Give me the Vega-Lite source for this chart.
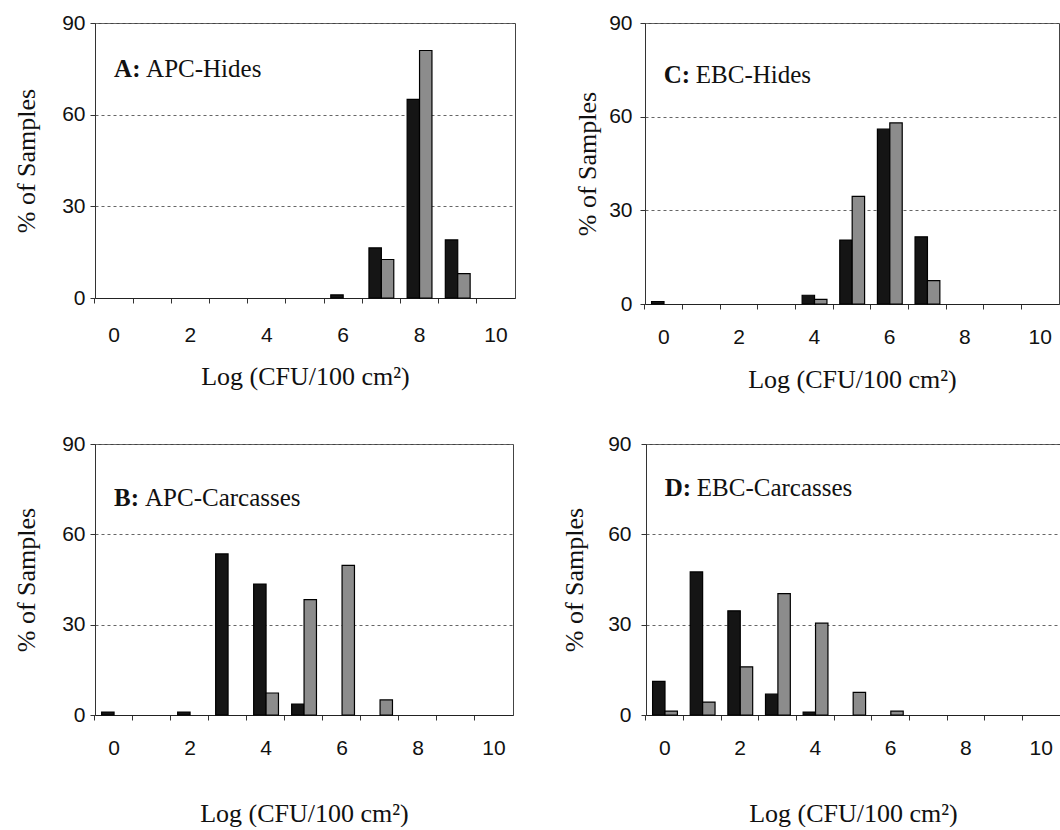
{
  "$schema": "https://vega.github.io/schema/vega-lite/v6.json",
  "background": "white",
  "padding": {"left": 13, "top": 11, "right": 0, "bottom": 0},
  "config": {
    "view": {"stroke": "#444", "strokeWidth": 1},
    "axisX": {"labelFont": "Liberation Sans", "labelFontSize": 21, "labelColor": "#111", "labelAngle": 0, "titleFont": "Liberation Serif", "titleFontSize": 26, "titleFontWeight": "normal", "titleColor": "#111", "tickColor": "#333", "tickSize": 5, "domainColor": "#222", "grid": false},
    "axisY": {"labelFont": "Liberation Sans", "labelFontSize": 21, "labelColor": "#111", "titleFont": "Liberation Serif", "titleFontSize": 26, "titleFontWeight": "normal", "titleColor": "#111", "tickColor": "#333", "tickSize": 5, "domainColor": "#333", "gridColor": "#666", "gridDash": [3, 3], "gridWidth": 1}
  },
  "datasets": {
    "bars": [
      {"panel": "A", "x": 6, "s": "dark", "v": 1},
      {"panel": "A", "x": 7, "s": "dark", "v": 16.4},
      {"panel": "A", "x": 7, "s": "gray", "v": 12.6},
      {"panel": "A", "x": 8, "s": "dark", "v": 65},
      {"panel": "A", "x": 8, "s": "gray", "v": 81},
      {"panel": "A", "x": 9, "s": "dark", "v": 19},
      {"panel": "A", "x": 9, "s": "gray", "v": 8},
      {"panel": "C", "x": 0, "s": "dark", "v": 0.8},
      {"panel": "C", "x": 4, "s": "dark", "v": 2.8},
      {"panel": "C", "x": 4, "s": "gray", "v": 1.5},
      {"panel": "C", "x": 5, "s": "dark", "v": 20.5},
      {"panel": "C", "x": 5, "s": "gray", "v": 34.5},
      {"panel": "C", "x": 6, "s": "dark", "v": 56},
      {"panel": "C", "x": 6, "s": "gray", "v": 58},
      {"panel": "C", "x": 7, "s": "dark", "v": 21.5},
      {"panel": "C", "x": 7, "s": "gray", "v": 7.5},
      {"panel": "B", "x": 0, "s": "dark", "v": 1},
      {"panel": "B", "x": 2, "s": "dark", "v": 1},
      {"panel": "B", "x": 3, "s": "dark", "v": 53.5},
      {"panel": "B", "x": 4, "s": "dark", "v": 43.5},
      {"panel": "B", "x": 4, "s": "gray", "v": 7.3},
      {"panel": "B", "x": 5, "s": "dark", "v": 3.6},
      {"panel": "B", "x": 5, "s": "gray", "v": 38.3},
      {"panel": "B", "x": 6, "s": "gray", "v": 49.7},
      {"panel": "B", "x": 7, "s": "gray", "v": 5},
      {"panel": "D", "x": 0, "s": "dark", "v": 11.2},
      {"panel": "D", "x": 0, "s": "gray", "v": 1.3},
      {"panel": "D", "x": 1, "s": "dark", "v": 47.5},
      {"panel": "D", "x": 1, "s": "gray", "v": 4.3},
      {"panel": "D", "x": 2, "s": "dark", "v": 34.6},
      {"panel": "D", "x": 2, "s": "gray", "v": 16},
      {"panel": "D", "x": 3, "s": "dark", "v": 6.9},
      {"panel": "D", "x": 3, "s": "gray", "v": 40.3},
      {"panel": "D", "x": 4, "s": "dark", "v": 1},
      {"panel": "D", "x": 4, "s": "gray", "v": 30.5},
      {"panel": "D", "x": 5, "s": "gray", "v": 7.5},
      {"panel": "D", "x": 6, "s": "gray", "v": 1.3}
    ]
  },
  "spacing": 39,
  "vconcat": [
    {
      "spacing": 58,
      "hconcat": [
        {
          "width": 420, "height": 275,
          "layer": [
            {
              "data": {"name": "bars"},
              "transform": [{"filter": "datum.panel == 'A'"}],
              "mark": {"type": "bar", "stroke": "#000", "strokeWidth": 1.2},
              "encoding": {
                "x": {"field": "x", "type": "ordinal", "scale": {"domain": [0,1,2,3,4,5,6,7,8,9,10], "paddingInner": 0.35, "paddingOuter": 0.175}, "axis": {"title": "Log (CFU/100 cm²)", "bandPosition": -0.27, "labelExpr": "datum.value % 2 == 0 ? datum.label : ''", "labelPadding": 21, "titlePadding": 18}},
                "xOffset": {"field": "s", "type": "nominal", "scale": {"domain": ["dark", "gray"]}},
                "y": {"field": "v", "type": "quantitative", "scale": {"domain": [0, 90]}, "axis": {"title": "% of Samples", "values": [0, 30, 60, 90], "labelPadding": 5, "titlePadding": 22}},
                "color": {"field": "s", "type": "nominal", "scale": {"domain": ["dark", "gray"], "range": ["#151515", "#8c8c8c"]}, "legend": null}
              }
            },
            {
              "data": {"values": [{"t": "A:"}]},
              "mark": {"type": "text", "align": "left", "baseline": "middle", "font": "Liberation Serif", "fontSize": 25, "fontWeight": "bold", "color": "#111"},
              "encoding": {"x": {"datum": 0, "type": "ordinal"}, "y": {"datum": 75, "type": "quantitative"}, "text": {"field": "t"}}
            },
            {
              "data": {"values": [{"t": "APC-Hides"}]},
              "mark": {"type": "text", "align": "left", "baseline": "middle", "font": "Liberation Serif", "fontSize": 25, "color": "#111", "dx": 32},
              "encoding": {"x": {"datum": 0, "type": "ordinal"}, "y": {"datum": 75, "type": "quantitative"}, "text": {"field": "t"}}
            }
          ]
        },
        {
          "width": 414, "height": 281,
          "layer": [
            {
              "data": {"name": "bars"},
              "transform": [{"filter": "datum.panel == 'C'"}],
              "mark": {"type": "bar", "stroke": "#000", "strokeWidth": 1.2},
              "encoding": {
                "x": {"field": "x", "type": "ordinal", "scale": {"domain": [0,1,2,3,4,5,6,7,8,9,10], "paddingInner": 0.35, "paddingOuter": 0.175}, "axis": {"title": "Log (CFU/100 cm²)", "bandPosition": -0.27, "labelExpr": "datum.value % 2 == 0 ? datum.label : ''", "labelPadding": 17, "titlePadding": 19}},
                "xOffset": {"field": "s", "type": "nominal", "scale": {"domain": ["dark", "gray"]}},
                "y": {"field": "v", "type": "quantitative", "scale": {"domain": [0, 90]}, "axis": {"title": "% of Samples", "values": [0, 30, 60, 90], "labelPadding": 8, "titlePadding": 8}},
                "color": {"field": "s", "type": "nominal", "scale": {"domain": ["dark", "gray"], "range": ["#151515", "#8c8c8c"]}, "legend": null}
              }
            },
            {
              "data": {"values": [{"t": "C:"}]},
              "mark": {"type": "text", "align": "left", "baseline": "middle", "font": "Liberation Serif", "fontSize": 25, "fontWeight": "bold", "color": "#111"},
              "encoding": {"x": {"datum": 0, "type": "ordinal"}, "y": {"datum": 73.5, "type": "quantitative"}, "text": {"field": "t"}}
            },
            {
              "data": {"values": [{"t": "EBC-Hides"}]},
              "mark": {"type": "text", "align": "left", "baseline": "middle", "font": "Liberation Serif", "fontSize": 25, "color": "#111", "dx": 32},
              "encoding": {"x": {"datum": 0, "type": "ordinal"}, "y": {"datum": 73.5, "type": "quantitative"}, "text": {"field": "t"}}
            }
          ]
        }
      ]
    },
    {
      "spacing": 47,
      "hconcat": [
        {
          "width": 418, "height": 271,
          "layer": [
            {
              "data": {"name": "bars"},
              "transform": [{"filter": "datum.panel == 'B'"}],
              "mark": {"type": "bar", "stroke": "#000", "strokeWidth": 1.2},
              "encoding": {
                "x": {"field": "x", "type": "ordinal", "scale": {"domain": [0,1,2,3,4,5,6,7,8,9,10], "paddingInner": 0.35, "paddingOuter": 0.175}, "axis": {"title": "Log (CFU/100 cm²)", "bandPosition": -0.27, "labelExpr": "datum.value % 2 == 0 ? datum.label : ''", "labelPadding": 17, "titlePadding": 42}},
                "xOffset": {"field": "s", "type": "nominal", "scale": {"domain": ["dark", "gray"]}},
                "y": {"field": "v", "type": "quantitative", "scale": {"domain": [0, 90]}, "axis": {"title": "% of Samples", "values": [0, 30, 60, 90], "labelPadding": 5, "titlePadding": 22}},
                "color": {"field": "s", "type": "nominal", "scale": {"domain": ["dark", "gray"], "range": ["#151515", "#8c8c8c"]}, "legend": null}
              }
            },
            {
              "data": {"values": [{"t": "B:"}]},
              "mark": {"type": "text", "align": "left", "baseline": "middle", "font": "Liberation Serif", "fontSize": 25, "fontWeight": "bold", "color": "#111"},
              "encoding": {"x": {"datum": 0, "type": "ordinal"}, "y": {"datum": 72, "type": "quantitative"}, "text": {"field": "t"}}
            },
            {
              "data": {"values": [{"t": "APC-Carcasses"}]},
              "mark": {"type": "text", "align": "left", "baseline": "middle", "font": "Liberation Serif", "fontSize": 25, "color": "#111", "dx": 31},
              "encoding": {"x": {"datum": 0, "type": "ordinal"}, "y": {"datum": 72, "type": "quantitative"}, "text": {"field": "t"}}
            }
          ]
        },
        {
          "width": 414, "height": 271,
          "layer": [
            {
              "data": {"name": "bars"},
              "transform": [{"filter": "datum.panel == 'D'"}],
              "mark": {"type": "bar", "stroke": "#000", "strokeWidth": 1.2},
              "encoding": {
                "x": {"field": "x", "type": "ordinal", "scale": {"domain": [0,1,2,3,4,5,6,7,8,9,10], "paddingInner": 0.35, "paddingOuter": 0.175}, "axis": {"title": "Log (CFU/100 cm²)", "bandPosition": -0.27, "labelExpr": "datum.value % 2 == 0 ? datum.label : ''", "labelPadding": 17, "titlePadding": 42}},
                "xOffset": {"field": "s", "type": "nominal", "scale": {"domain": ["dark", "gray"]}},
                "y": {"field": "v", "type": "quantitative", "scale": {"domain": [0, 90]}, "axis": {"title": "% of Samples", "values": [0, 30, 60, 90], "labelPadding": 10, "titlePadding": 20}},
                "color": {"field": "s", "type": "nominal", "scale": {"domain": ["dark", "gray"], "range": ["#151515", "#8c8c8c"]}, "legend": null}
              }
            },
            {
              "data": {"values": [{"t": "D:"}]},
              "mark": {"type": "text", "align": "left", "baseline": "middle", "font": "Liberation Serif", "fontSize": 25, "fontWeight": "bold", "color": "#111"},
              "encoding": {"x": {"datum": 0, "type": "ordinal"}, "y": {"datum": 75.5, "type": "quantitative"}, "text": {"field": "t"}}
            },
            {
              "data": {"values": [{"t": "EBC-Carcasses"}]},
              "mark": {"type": "text", "align": "left", "baseline": "middle", "font": "Liberation Serif", "fontSize": 25, "color": "#111", "dx": 32},
              "encoding": {"x": {"datum": 0, "type": "ordinal"}, "y": {"datum": 75.5, "type": "quantitative"}, "text": {"field": "t"}}
            }
          ]
        }
      ]
    }
  ]
}
